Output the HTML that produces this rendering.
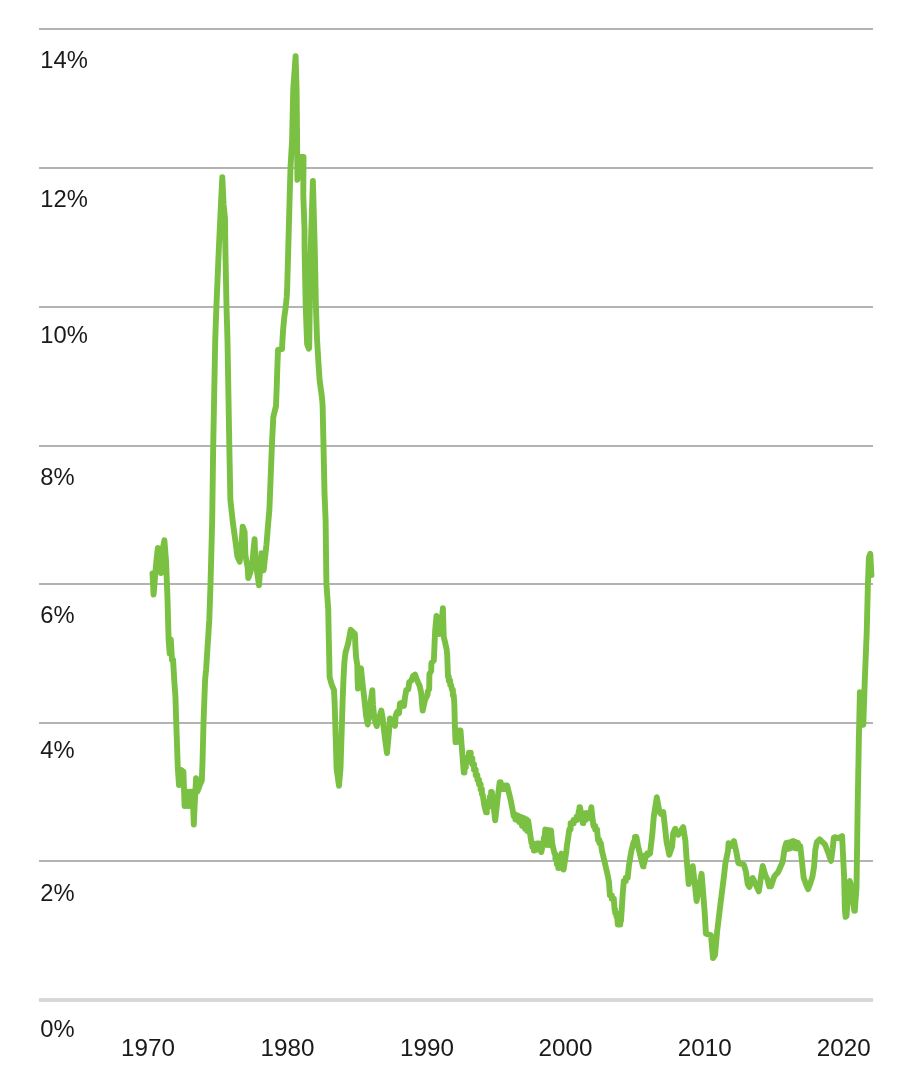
<!DOCTYPE html>
<html lang="en">
<head>
<meta charset="utf-8">
<title>Core inflation chart</title>
<style>
html,body{margin:0;padding:0;background:#fff;}
body{width:903px;height:1079px;overflow:hidden;font-family:"Liberation Sans",sans-serif;}
svg{display:block;}
</style>
</head>
<body>
<svg width="903" height="1079" viewBox="0 0 903 1079">
<rect width="903" height="1079" fill="#ffffff"/>
<rect x="39" y="28" width="834" height="2" fill="#b3b3b3"/>
<rect x="39" y="167" width="834" height="2" fill="#b3b3b3"/>
<rect x="39" y="306" width="834" height="2" fill="#b3b3b3"/>
<rect x="39" y="445" width="834" height="2" fill="#b3b3b3"/>
<rect x="39" y="583" width="834" height="2" fill="#b3b3b3"/>
<rect x="39" y="722" width="834" height="2" fill="#b3b3b3"/>
<rect x="39" y="860" width="834" height="2" fill="#b3b3b3"/>
<rect x="39" y="998" width="834" height="4" fill="#d8d8d8"/>
<g font-family="'Liberation Sans', sans-serif" font-size="23.4" fill="#1a1a1a" opacity="0.999">
<text transform="translate(40.3 68.2) scale(1.015 1)">14%</text>
<text transform="translate(40.3 206.8) scale(1.015 1)">12%</text>
<text transform="translate(40.3 343.3) scale(1.015 1)">10%</text>
<text transform="translate(40.3 484.9) scale(1.015 1)">8%</text>
<text transform="translate(40.3 622.9) scale(1.015 1)">6%</text>
<text transform="translate(40.3 758.3) scale(1.015 1)">4%</text>
<text transform="translate(40.3 901.3) scale(1.015 1)">2%</text>
<text transform="translate(40.3 1036.8) scale(1.015 1)">0%</text>
<text transform="translate(147.9 1056.2) scale(1.036 1)" text-anchor="middle">1970</text>
<text transform="translate(287.4 1056.2) scale(1.036 1)" text-anchor="middle">1980</text>
<text transform="translate(427.0 1056.2) scale(1.036 1)" text-anchor="middle">1990</text>
<text transform="translate(565.4 1056.2) scale(1.036 1)" text-anchor="middle">2000</text>
<text transform="translate(704.7 1056.2) scale(1.036 1)" text-anchor="middle">2010</text>
<text transform="translate(843.8 1056.2) scale(1.036 1)" text-anchor="middle">2020</text>
</g>
<polyline points="152.5,573.5 153.6,594.5 156.0,565.0 157.8,548.0 159.5,562.0 161.0,573.0 162.5,550.0 164.4,540.2 166.1,562.0 167.4,596.0 168.6,639.3 169.7,653.5 170.8,639.5 172.0,660.0 173.1,660.0 174.3,681.0 175.4,696.0 176.5,730.0 177.8,768.0 179.0,785.1 180.0,770.0 181.2,770.0 182.3,771.0 183.4,771.6 184.6,806.0 185.8,791.7 186.9,806.0 188.0,791.7 189.2,806.0 190.3,791.7 191.5,791.7 192.6,791.7 193.8,824.5 194.9,800.0 196.1,778.2 197.2,791.7 198.4,789.0 199.5,786.0 200.7,783.0 201.8,780.7 202.5,763.0 203.5,723.0 205.1,680.0 206.1,669.5 209.3,619.7 210.5,584.0 212.2,520.0 213.2,445.7 215.2,341.0 216.4,306.5 219.0,245.0 221.0,203.5 222.3,177.3 223.6,205.0 225.0,218.0 225.3,245.0 226.5,306.5 227.5,341.0 229.3,445.7 230.4,500.0 232.8,522.0 235.8,544.0 237.3,556.0 239.7,561.7 241.5,545.0 242.7,526.6 244.6,532.0 245.4,555.0 247.7,568.0 248.3,578.1 250.5,572.0 252.5,562.0 253.5,550.0 254.6,539.3 255.2,555.4 257.1,572.0 259.0,585.3 260.3,567.0 261.5,553.2 263.7,570.3 265.0,558.0 266.5,544.3 268.3,522.1 269.4,509.5 271.9,445.5 273.3,417.0 276.0,406.0 276.8,384.9 277.3,369.0 277.7,358.0 278.0,349.6 282.0,349.0 282.3,343.0 283.1,330.0 284.3,317.0 285.6,308.0 286.7,297.0 287.1,290.0 288.1,255.0 289.7,195.4 290.5,167.7 292.1,140.0 293.2,90.0 295.6,56.1 296.6,90.0 297.1,140.0 297.4,179.9 299.0,170.0 300.5,157.0 303.5,157.0 303.3,195.4 304.5,228.6 304.6,250.0 305.7,305.4 307.1,344.0 308.7,348.6 309.2,348.0 310.4,259.0 312.9,181.0 314.8,250.0 315.9,305.4 317.0,338.6 318.4,362.0 319.6,380.0 321.8,396.0 322.6,405.0 323.5,445.5 324.5,492.9 325.6,520.0 326.4,583.7 328.2,608.6 328.8,639.0 329.4,665.4 329.6,677.0 331.8,685.0 334.0,690.0 334.6,702.0 335.3,724.3 336.6,768.6 339.0,785.8 340.5,768.6 341.9,724.3 342.7,698.6 343.6,676.4 344.4,662.0 345.5,652.6 348.2,643.2 350.7,629.8 354.9,633.8 355.5,648.0 356.2,658.0 357.3,665.0 357.6,680.0 358.0,688.5 359.5,678.0 361.0,668.3 362.7,685.0 364.3,698.3 366.0,715.0 367.7,724.5 370.0,706.0 372.3,690.2 373.0,705.0 374.3,718.3 376.7,726.1 379.0,718.0 381.3,710.5 382.7,718.3 383.7,728.3 385.3,741.0 387.0,753.1 388.7,735.0 390.0,718.4 392.5,722.0 395.0,725.8 395.7,715.3 397.3,711.7 399.0,713.3 400.0,703.3 402.3,702.7 404.0,706.0 405.0,697.3 406.3,690.0 408.3,689.3 409.3,682.0 411.3,680.7 413.0,676.0 415.0,674.5 417.0,680.0 419.7,686.0 421.3,693.3 422.0,703.3 422.7,710.5 425.0,700.0 427.5,695.0 427.8,691.5 429.2,689.0 429.4,674.0 431.2,671.0 431.4,663.0 433.8,660.5 434.3,650.0 434.7,640.0 435.2,630.0 436.5,616.0 437.5,625.0 439.2,634.0 441.0,628.0 442.9,608.3 443.7,636.5 446.6,649.0 447.2,655.0 448.0,676.7 448.8,676.7 448.8,680.7 450.2,680.7 450.2,684.7 451.0,684.7 452.0,690.0 452.9,690.0 452.9,695.3 453.7,695.3 454.3,703.3 454.8,722.7 455.5,742.1 456.8,742.1 456.8,736.0 458.0,736.0 459.2,736.0 459.2,730.5 460.5,730.5 462.0,750.0 463.8,772.5 464.5,772.5 464.5,767.2 465.8,767.2 465.8,762.0 466.5,762.0 467.4,762.0 467.4,757.3 469.0,757.3 469.0,752.6 469.9,752.6 470.7,752.6 470.7,758.4 472.4,758.4 472.4,764.2 473.2,764.2 474.0,764.2 474.0,769.8 475.7,769.8 475.7,775.3 476.5,775.3 477.4,775.3 477.4,779.8 479.0,779.8 479.0,784.2 479.9,784.2 480.6,784.2 480.6,789.2 481.9,789.2 481.9,794.1 482.6,794.1 484.3,805.2 486.0,812.4 486.8,812.4 486.8,807.2 488.2,807.2 488.2,802.0 489.0,802.0 489.7,802.0 489.7,797.0 491.1,797.0 491.1,791.9 491.8,791.9 493.5,806.0 495.2,820.4 497.5,800.0 499.7,782.1 500.6,782.1 500.6,785.5 502.3,785.5 502.3,789.0 503.2,789.0 505.1,789.0 505.1,785.5 507.1,785.5 510.4,798.8 512.6,809.8 513.7,816.3 514.7,814.5 515.4,814.5 515.4,819.6 516.0,819.6 516.8,819.6 516.8,815.5 517.5,815.5 519.0,822.0 519.8,822.0 519.8,816.7 520.5,816.7 522.0,825.8 523.5,818.0 525.0,828.9 526.3,819.2 527.3,831.0 528.2,820.8 529.8,832.0 531.5,843.0 532.3,843.0 532.3,846.8 533.9,846.8 533.9,850.5 534.7,850.5 536.5,843.5 537.2,843.5 537.2,849.5 538.0,849.5 538.8,849.5 538.8,843.5 539.5,843.5 541.3,852.1 543.0,843.5 543.8,843.5 543.8,838.0 544.6,838.0 545.3,829.5 547.0,845.0 548.3,830.0 549.5,845.0 551.0,830.5 552.3,844.2 554.7,854.1 555.4,854.1 555.4,859.1 556.8,859.1 556.8,864.1 557.5,864.1 558.3,864.1 558.3,868.0 559.1,868.0 561.4,853.6 563.6,869.5 566.3,851.7 566.9,846.0 568.3,836.7 569.3,829.3 570.6,829.3 570.6,823.3 572.0,823.3 573.6,823.3 573.6,820.0 575.3,820.0 576.6,820.0 576.6,816.7 578.0,816.7 579.0,810.0 579.5,810.0 579.5,807.2 580.0,807.2 581.2,814.0 582.2,821.0 582.8,821.0 582.8,823.1 583.3,823.1 584.3,813.5 585.5,820.0 586.6,813.0 587.8,818.5 589.0,813.0 589.6,813.0 589.6,817.5 590.2,817.5 591.3,807.2 592.2,816.0 593.5,826.0 595.2,826.0 595.2,829.5 597.0,829.5 598.0,840.0 599.4,840.0 599.4,843.0 600.8,843.0 602.0,851.0 604.0,859.3 605.7,866.7 608.0,876.7 609.0,882.1 609.9,895.4 611.8,895.4 611.8,898.7 613.8,898.7 614.6,909.8 615.2,909.8 615.2,913.1 616.5,913.1 616.5,916.4 617.1,916.4 617.8,924.5 619.6,924.5 620.3,924.5 620.3,920.9 621.0,920.9 622.7,894.3 623.8,881.0 625.8,881.0 625.8,877.7 627.7,877.7 628.8,866.6 630.4,856.6 631.4,850.9 633.6,842.0 635.0,842.0 635.0,837.0 636.4,837.0 638.6,848.7 640.8,857.5 643.0,866.4 643.5,866.4 643.5,862.7 644.4,862.7 644.4,859.0 645.3,859.0 645.3,855.3 645.8,855.3 647.5,855.3 647.5,853.1 649.1,853.1 650.0,853.6 652.2,835.4 653.8,816.5 656.8,797.2 659.5,812.0 661.0,814.0 663.3,812.1 664.9,826.5 666.6,842.0 669.3,854.8 672.1,846.4 673.2,833.2 675.2,828.7 678.2,834.8 683.2,827.1 685.4,840.9 686.5,857.5 688.2,877.5 688.7,884.1 692.8,866.2 696.6,901.0 701.6,873.8 703.2,893.2 704.9,915.4 705.9,933.6 711.0,935.3 713.0,958.0 715.0,955.0 717.1,932.0 720.4,904.3 723.9,876.6 725.4,863.3 728.0,850.9 728.6,843.1 731.0,846.0 733.9,841.0 736.6,853.2 738.3,863.1 743.8,864.5 746.0,872.0 747.7,884.2 749.4,886.9 752.7,878.1 755.5,884.0 758.8,891.4 760.8,878.0 762.7,865.9 765.4,875.3 767.6,879.7 769.3,886.4 771.0,886.4 774.3,876.4 778.2,872.0 782.6,862.0 784.8,847.6 786.3,843.0 787.5,849.0 788.8,842.5 790.0,848.5 791.5,841.5 793.1,841.0 794.3,848.0 795.5,842.0 796.8,848.5 798.0,843.0 799.2,849.0 800.3,846.0 802.0,862.0 803.6,877.5 806.4,885.3 808.1,889.1 810.8,882.0 812.5,876.4 814.1,866.4 815.3,849.8 816.9,842.1 819.7,839.3 824.9,844.3 828.8,854.3 831.0,860.9 832.7,848.8 833.8,837.7 834.9,837.1 838.2,838.2 842.1,836.0 843.0,854.3 844.1,876.4 844.9,909.7 845.6,916.9 846.5,916.0 848.0,895.0 849.8,880.9 851.5,887.5 852.6,898.6 854.3,910.8 854.8,910.8 856.5,887.5 857.0,854.3 857.6,810.0 858.9,737.2 859.9,692.3 861.5,705.0 863.3,724.7 864.8,679.9 866.8,630.0 867.9,584.5 868.9,557.8 870.3,553.8 871.4,575.1" fill="none" stroke="#7ac143" stroke-width="5.9" stroke-linejoin="round" stroke-linecap="round"/>
</svg>
</body>
</html>
